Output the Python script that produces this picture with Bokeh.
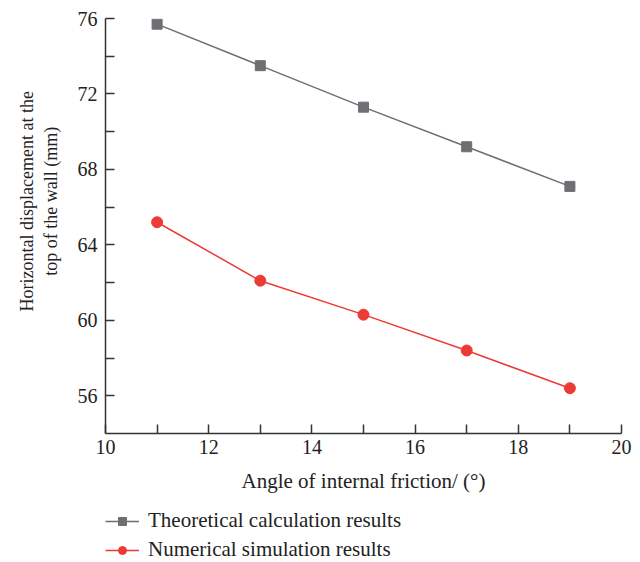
from bokeh.plotting import figure
from bokeh.models import Legend, LegendItem, Range1d, FixedTicker
from bokeh.layouts import column
from bokeh.embed import file_html
from bokeh.resources import INLINE

angles = [11, 13, 15, 17, 19]
theoretical = [75.7, 73.5, 71.3, 69.2, 67.1]
numerical = [65.2, 62.1, 60.3, 58.4, 56.4]
x_ticks = [10, 12, 14, 16, 18, 20]
y_ticks = [56, 60, 64, 68, 72, 76]
series_names = ["Theoretical calculation results", "Numerical simulation results"]

FONT = "Liberation Serif"
GRAY = "#6e6e73"
RED = "#ec3b35"
AX = "#333333"
TXT = "#222222"

p = figure(width=640, height=500, output_backend="svg", toolbar_location=None,
           x_range=Range1d(10, 20), y_range=Range1d(54, 76),
           min_border_left=105, min_border_right=19, min_border_top=18, min_border_bottom=67)
p.outline_line_color = None
p.grid.visible = False

def draw(fig):
    a = fig.line(angles, theoretical, line_color=GRAY, line_width=1.5)
    b = fig.scatter(angles, theoretical, marker="square", size=10, fill_color=GRAY, line_color=GRAY)
    c = fig.line(angles, numerical, line_color=RED, line_width=1.5)
    d = fig.scatter(angles, numerical, marker="circle", size=11, fill_color=RED, line_color=RED)
    return a, b, c, d

draw(p)

for ax in (p.xaxis[0], p.yaxis[0]):
    ax.axis_line_color = AX
    ax.axis_line_width = 1.5
    ax.major_tick_line_color = AX
    ax.minor_tick_line_color = AX
    ax.major_tick_line_width = 1.5
    ax.minor_tick_line_width = 1.5
    ax.major_tick_in = 9
    ax.major_tick_out = 0
    ax.minor_tick_in = 9
    ax.minor_tick_out = 0
    ax.major_label_text_font = FONT
    ax.major_label_text_font_size = "20px"
    ax.major_label_text_color = TXT
    ax.axis_label_text_font = FONT
    ax.axis_label_text_font_style = "normal"
    ax.axis_label_text_color = TXT

pad = "\u00a0" * 11
p.xaxis[0].ticker = FixedTicker(ticks=x_ticks, minor_ticks=[11, 13, 15, 17, 19])
p.yaxis[0].ticker = FixedTicker(ticks=y_ticks, minor_ticks=[58, 62, 66, 70, 74])
p.xaxis[0].axis_label = "Angle of internal friction/ (°)"
p.xaxis[0].axis_label_text_font_size = "21px"
p.xaxis[0].major_label_standoff = 6
p.xaxis[0].axis_label_standoff = 12
p.yaxis[0].axis_label = pad + "Horizontal displacement at the\n" + pad + "top of the wall (mm)"
p.yaxis[0].axis_label_text_font_size = "18px"
p.yaxis[0].major_label_standoff = 8
p.yaxis[0].axis_label_standoff = 14

# legend panel below the chart
lg = figure(width=640, height=62, output_backend="svg", toolbar_location=None,
            x_range=Range1d(0, 1), y_range=Range1d(0, 1),
            x_axis_type=None, y_axis_type=None,
            min_border_left=0, min_border_right=0, min_border_top=0, min_border_bottom=0)
lg.outline_line_color = None
lg.grid.visible = False
r = draw(lg)

legend = Legend(items=[LegendItem(label=series_names[0], renderers=[r[0], r[1]]),
                       LegendItem(label=series_names[1], renderers=[r[2], r[3]])],
                location=(0, 0), orientation="vertical")
legend.border_line_color = None
legend.background_fill_alpha = 0
legend.label_text_font = FONT
legend.label_text_font_size = "21px"
legend.label_text_color = TXT
legend.glyph_width = 34
legend.label_standoff = 9
legend.spacing = 4
legend.padding = 0
legend.margin = 0
legend.label_height = 20
legend.glyph_height = 20
lg.add_layout(legend)

layout = column(p, lg, spacing=0)
open("out.html", "w").write(file_html(layout, INLINE))
